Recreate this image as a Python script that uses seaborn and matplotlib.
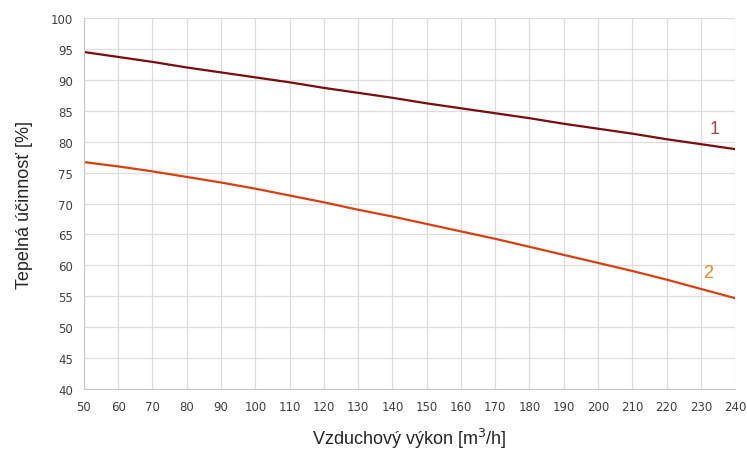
import seaborn as sns
import matplotlib.pyplot as plt
import pandas as pd
import numpy as np

# Data
vykon = [50, 60, 70, 80, 90, 100, 110, 120, 130, 140, 150, 160, 170, 180, 190, 200, 210, 220, 230, 240]
ucinnost_1 = [94.5, 93.7, 92.9, 92.0, 91.2, 90.4, 89.6, 88.7, 87.9, 87.1, 86.2, 85.4, 84.6, 83.8, 82.9, 82.1, 81.3, 80.4, 79.6, 78.8]
ucinnost_2 = [76.7, 76.0, 75.2, 74.3, 73.4, 72.4, 71.3, 70.2, 69.0, 67.9, 66.7, 65.5, 64.3, 63.0, 61.7, 60.4, 59.1, 57.7, 56.2, 54.7]
x_ticks = list(range(50, 241, 10))
y_ticks = list(range(40, 101, 5))

df = pd.DataFrame({"vykon": vykon, "1": ucinnost_1, "2": ucinnost_2})

sns.set_style("white")
fig = plt.figure(figsize=(7.47, 4.52), dpi=100)
ax = fig.add_axes([0.1124, 0.137, 0.8716, 0.821])

sns.lineplot(x="vykon", y="1", data=df, ax=ax, color="#7b0d0d", linewidth=1.6)
sns.lineplot(x="vykon", y="2", data=df, ax=ax, color="#d9400f", linewidth=1.6)

ax.set_xlim(50, 240)
ax.set_ylim(40, 100)
ax.set_xticks(x_ticks)
ax.set_yticks(y_ticks)
ax.grid(True, color="#dddddd", linewidth=0.9)
ax.set_axisbelow(True)
for s in ["top", "right"]:
    ax.spines[s].set_visible(False)
for s in ["left", "bottom"]:
    ax.spines[s].set_color("#c8c8c8")
ax.tick_params(axis="both", length=0, labelsize=8.5, labelcolor="#404040", pad=8)

ax.set_xlabel("Vzduchový výkon [m$^3$/h]", fontsize=13, family="Liberation Sans", labelpad=9)
ax.set_ylabel("Tepelná účinnosť [%]", fontsize=13, family="Liberation Sans", labelpad=13)

ax.text(234, 80.8, "1", color="#a04848", fontsize=13, family="Liberation Sans", ha="center", va="bottom")
ax.text(232, 57.5, "2", color="#e8862a", fontsize=13, family="Liberation Sans", ha="center", va="bottom")

fig.savefig("out.png", dpi=100)
